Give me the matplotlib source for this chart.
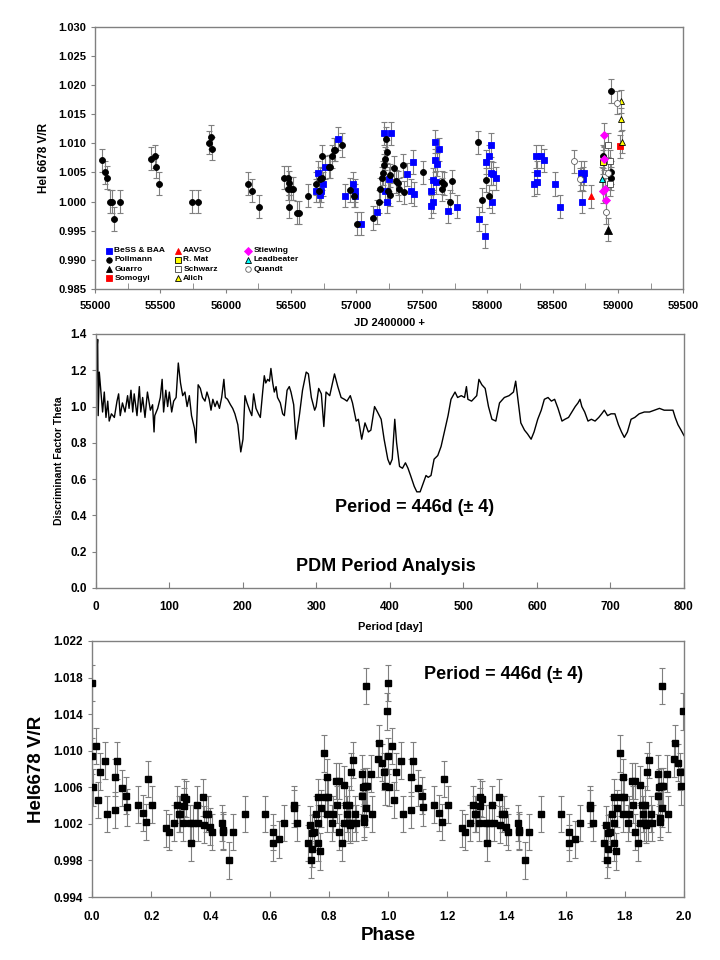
import numpy as np
import matplotlib.pyplot as plt
from matplotlib.ticker import MultipleLocator, FormatStrFormatter

plt.rcParams['font.family'] = ['Liberation Sans', 'DejaVu Sans']
plt.rcParams['font.weight'] = 'bold'

# ---- top panel: HeI 6678 V/R time series ----
bess_jd = [56690, 56704, 56721, 56732, 56742, 56756, 56858, 56914, 56970, 56988,
           56992, 57037, 57160, 57213, 57262, 57216, 57230, 57251, 57385, 57417,
           57438, 57434, 57571, 57571, 57582, 57589, 57603, 57600, 57610, 57617,
           57634, 57698, 57768, 57937, 57986, 57989, 58017, 58028, 58028, 58042,
           58038, 58070, 58361, 58379, 58375, 58382, 58410, 58432, 58516, 58555,
           58720, 58742, 58735, 58728]
bess_vr = [1.0019, 1.0049, 1.0011, 1.0019, 1.0030, 1.0059, 1.0108, 1.0010, 1.0030, 1.0019,
           1.0010, 0.9962, 0.9982, 1.0117, 1.0117, 1.0019, 1.0000, 1.0039, 1.0047, 1.0018,
           1.0013, 1.0068, 1.0018, 0.9992, 1.0000, 1.0037, 1.0103, 1.0071, 1.0033, 1.0064,
           1.0090, 0.9984, 0.9991, 0.9970, 0.9941, 1.0068, 1.0078, 1.0097, 1.0049, 1.0048,
           1.0000, 1.0040, 1.0030, 1.0033, 1.0078, 1.0049, 1.0078, 1.0071, 1.0030, 0.9991,
           1.0049, 1.0049, 1.0039, 1.0000]

pollmann_jd = [55053, 55074, 55091, 55116, 55133, 55148, 55193, 55429, 55457, 55464,
               55488, 55738, 55790, 55875, 55885, 55896, 56170, 56198, 56254, 56444,
               56479, 56482, 56475, 56500, 56514, 56482, 56542, 56563, 56626, 56693,
               56714, 56721, 56739, 56740, 56788, 56798, 56809, 56826, 56837, 56886,
               56949, 56981, 57002, 57125, 57171, 57181, 57195, 57202, 57209, 57220,
               57227, 57234, 57244, 57255, 57255, 57287, 57301, 57315, 57325, 57357,
               57360, 57508, 57652, 57655, 57669, 57715, 57729, 57926, 57964, 57989,
               58014, 58888, 58944, 58948, 58944]
pollmann_vr = [1.0071, 1.0050, 1.0041, 1.0000, 1.0000, 0.9970, 1.0000, 1.0074, 1.0078, 1.0060,
               1.0031, 1.0000, 1.0000, 1.0101, 1.0111, 1.0091, 1.0031, 1.0019, 0.9991, 1.0041,
               1.0041, 1.0032, 1.0022, 1.0022, 1.0022, 0.9991, 0.9981, 0.9981, 1.0010, 1.0031,
               1.0019, 1.0039, 1.0040, 1.0078, 1.0060, 1.0060, 1.0078, 1.0089, 1.0089, 1.0097,
               1.0020, 1.0010, 0.9962, 0.9972, 1.0000, 1.0021, 1.0040, 1.0049, 1.0062, 1.0074,
               1.0108, 1.0086, 1.0018, 1.0045, 1.0012, 1.0058, 1.0035, 1.0032, 1.0021, 1.0062,
               1.0016, 1.0050, 1.0021, 1.0033, 1.0031, 1.0000, 1.0035, 1.0102, 1.0003, 1.0037,
               1.0009, 1.0078, 1.0050, 1.0040, 1.0190]

guarro_jd = [58923]
guarro_vr = [0.9952]
somogyi_jd = [59018]
somogyi_vr = [1.0095]
aavso_jd = [58793]
aavso_vr = [1.0009]
rmat_jd = [58885]
rmat_vr = [1.0068]
schwarz_jd = [58927, 58941, 58936]
schwarz_vr = [1.0097, 1.0069, 1.0030]
alich_jd = [59020, 59022, 59028]
alich_vr = [1.0172, 1.0141, 1.0103]
stiewing_jd = [58895, 58897, 58888, 58902, 58909]
stiewing_vr = [1.0115, 1.0074, 1.0018, 1.0021, 1.0003]
leadbeater_jd = [58878]
leadbeater_vr = [1.0039]
quandt_jd = [58661, 58712, 58908, 58923, 58990]
quandt_vr = [1.0069, 1.0038, 0.9982, 1.0049, 1.0170]

vr_err = 0.002

# ---- middle panel: PDM theta vs trial period ----
period_days = [0, 1, 2.3, 3, 4.5, 6.8, 9, 11.3, 13.6, 16, 18, 21, 25, 28.6, 30.8, 33, 36, 39.5, 43, 45,
               47.6, 50, 52, 55.8, 59, 61, 63.5, 66.7, 70, 74, 77, 79, 80, 84, 87.5, 90, 92, 95, 97.5, 99.8,
               103, 105.7, 109, 112, 115, 118, 121, 124, 127, 130, 134, 136, 139, 142, 145, 148.3, 151, 154, 156.5, 159,
               162, 164.7, 168, 171, 174, 176, 179, 183, 186, 189, 193, 197, 200, 202.7, 205.5, 209, 212, 214.5, 217.7, 221,
               223.6, 227, 229, 231, 233.6, 236, 238, 240.5, 242.6, 245, 247, 250.8, 254, 256.3, 260, 263, 265.3, 269, 272, 277,
               281, 286, 289, 293, 297.5, 299.5, 303, 306.6, 310, 313, 318, 324.5, 329, 333.5, 338, 341.5, 346, 349, 354, 357,
               361.5, 366, 370.6, 374, 379, 383, 388, 392, 397, 400, 403, 406.5, 409, 413, 417, 421, 424.5, 428, 433, 436.5,
               441, 445.5, 449, 452, 455.8, 460, 465, 469.5, 474, 479, 483, 488.5, 492, 497, 501.4, 504, 506, 511, 515.6, 518,
               521, 525, 529.5, 534, 538.7, 544, 549, 555.6, 562, 568, 571, 573.7, 578, 583, 587, 592, 596, 601, 605.8, 610,
               615, 619.6, 624, 628.6, 634, 638, 642.9, 647.5, 652, 655.8, 658.5, 661, 664.9, 669.4, 674, 679, 684, 688, 691.6, 696,
               700.7, 706, 710.8, 715, 718.8, 723, 728, 733, 739, 746, 753, 760, 766.6, 773, 780, 785, 788, 791.8, 796, 800]
theta = [0.97, 1.30, 1.37, 0.95, 1.19, 1.08, 0.97, 1.08, 0.94, 1.03, 0.92, 0.96, 0.94, 1.03, 1.07, 0.95, 1.02, 0.97, 1.06, 0.99,
         1.09, 0.97, 1.07, 0.95, 1.11, 0.97, 1.05, 0.94, 1.08, 0.98, 1.01, 0.86, 0.95, 0.99, 1.05, 1.15, 0.97, 1.09, 1.00, 1.08,
         0.97, 1.03, 1.05, 1.24, 1.13, 1.06, 1.08, 1.00, 1.06, 0.95, 0.88, 0.80, 1.12, 1.10, 1.05, 1.03, 1.08, 1.04, 0.98, 1.04,
         1.00, 1.03, 0.99, 1.05, 1.15, 1.05, 1.04, 1.01, 0.99, 0.96, 0.90, 0.75, 0.82, 1.06, 1.02, 0.98, 0.95, 1.07, 0.99, 0.96,
         0.94, 1.09, 1.17, 1.13, 1.15, 1.14, 1.21, 1.13, 1.08, 1.11, 1.05, 1.02, 0.96, 0.95, 1.09, 1.11, 1.08, 1.01, 0.82, 0.96,
         1.09, 1.19, 1.18, 1.05, 0.98, 1.00, 1.10, 1.07, 0.89, 1.08, 1.06, 1.18, 1.11, 1.05, 1.04, 1.03, 1.06, 1.02, 0.92, 0.93,
         0.82, 0.91, 0.86, 0.87, 1.00, 0.97, 0.93, 0.82, 0.71, 0.68, 0.71, 0.93, 0.80, 0.67, 0.66, 0.69, 0.66, 0.62, 0.56, 0.53,
         0.53, 0.58, 0.62, 0.61, 0.62, 0.71, 0.73, 0.78, 0.86, 0.95, 1.04, 1.08, 1.05, 1.06, 1.05, 1.11, 1.04, 1.03, 1.05, 1.06,
         1.15, 1.12, 1.10, 1.00, 0.93, 0.92, 1.02, 1.05, 1.06, 1.08, 1.14, 1.05, 0.91, 0.87, 0.85, 0.82, 0.86, 0.93, 0.98, 1.04,
         1.05, 1.03, 1.04, 0.99, 0.92, 0.93, 0.94, 0.97, 1.00, 1.02, 1.04, 1.00, 0.97, 0.92, 0.93, 0.92, 0.94, 0.96, 0.98, 0.95,
         0.96, 0.96, 0.90, 0.86, 0.83, 0.86, 0.93, 0.94, 0.96, 0.97, 0.97, 0.98, 0.99, 0.98, 0.98, 0.98, 0.94, 0.90, 0.87, 0.84]

# ---- bottom panel: phase-folded V/R (one cycle, shown twice) ----
phase = [0.000, 0.000, 0.005, 0.014, 0.020, 0.028, 0.045, 0.051, 0.078, 0.079,
         0.085, 0.102, 0.115, 0.119, 0.157, 0.171, 0.183, 0.189, 0.202, 0.251,
         0.260, 0.276, 0.287, 0.293, 0.298, 0.307, 0.312, 0.312, 0.318, 0.330,
         0.335, 0.340, 0.353, 0.357, 0.375, 0.380, 0.384, 0.391, 0.397, 0.406,
         0.440, 0.442, 0.443, 0.462, 0.476, 0.516, 0.583, 0.611, 0.612, 0.633,
         0.650, 0.684, 0.684, 0.691, 0.729, 0.735, 0.740, 0.743, 0.744, 0.750,
         0.757, 0.763, 0.764, 0.764, 0.769, 0.772, 0.783, 0.788, 0.794, 0.795,
         0.797, 0.812, 0.815, 0.825, 0.829, 0.833, 0.836, 0.846, 0.850, 0.853,
         0.857, 0.862, 0.865, 0.868, 0.873, 0.876, 0.879, 0.882, 0.890, 0.891,
         0.912, 0.913, 0.916, 0.918, 0.919, 0.922, 0.926, 0.927, 0.929, 0.943,
         0.946, 0.966, 0.969, 0.980, 0.986, 0.989, 0.997]
phase_vr = [1.0174, 1.0094, 1.0060, 1.0105, 1.0046, 1.0077, 1.0089, 1.0031, 1.0071, 1.0035,
            1.0089, 1.0059, 1.0051, 1.0038, 1.0041, 1.0032, 1.0022, 1.0069, 1.0041, 1.0015,
            1.0011, 1.0021, 1.0041, 1.0031, 1.0031, 1.0021, 1.0049, 1.0039, 1.0047, 1.0021,
            0.9999, 1.0021, 1.0041, 1.0021, 1.0049, 1.0019, 1.0031, 1.0031, 1.0017, 1.0011,
            1.0021, 1.0013, 1.0011, 0.9980, 1.0011, 1.0031, 1.0031, 0.9999, 1.0011, 1.0003,
            1.0021, 1.0041, 1.0037, 1.0021, 0.9999, 1.0019, 0.9981, 0.9993, 1.0010, 1.0011,
            1.0031, 0.9999, 1.0021, 1.0049, 0.9990, 1.0037, 1.0097, 1.0049, 1.0031, 1.0071,
            1.0049, 1.0021, 1.0031, 1.0067, 1.0041, 1.0011, 1.0067, 0.9999, 1.0063, 1.0021,
            1.0041, 1.0031, 1.0021, 1.0041, 1.0019, 1.0077, 1.0021, 1.0090, 1.0031, 1.0021,
            1.0051, 1.0075, 1.0060, 1.0026, 1.0022, 1.0061, 1.0171, 1.0037, 1.0061, 1.0075,
            1.0031, 1.0091, 1.0108, 1.0087, 1.0077, 1.0061, 1.0143]
phase_yticks = [0.994, 0.998, 1.002, 1.006, 1.010, 1.014, 1.018, 1.022]

fig = plt.figure(figsize=(7.2, 9.6), dpi=100)
frame_col = '#808080'
err_col = '#7f7f7f'


def style_frame(ax):
    for s in ax.spines.values():
        s.set_color(frame_col)
        s.set_linewidth(1.0)


def draw_series(ax, x, y, marker, face, edge, size):
    ax.errorbar(x, y, yerr=vr_err, fmt='none', ecolor=err_col, elinewidth=0.8,
                capsize=2, capthick=0.8, zorder=2)
    ax.plot(x, y, linestyle='none', marker=marker, ms=size, mfc=face, mec=edge,
            mew=0.6, zorder=3)


# top
ax1 = fig.add_axes([0.132, 0.699, 0.817, 0.273])
sources = [
    ("BeSS & BAA", bess_jd, bess_vr, 's', '#0000ff', '#0000ff', 4.2),
    ("Pollmann", pollmann_jd, pollmann_vr, 'o', 'black', 'black', 4.3),
    ("Guarro", guarro_jd, guarro_vr, '^', 'black', 'black', 5.5),
    ("Somogyi", somogyi_jd, somogyi_vr, 's', '#ff0000', '#ff0000', 4.5),
    ("AAVSO", aavso_jd, aavso_vr, '^', '#ff0000', '#ff0000', 5.0),
    ("R. Mat", rmat_jd, rmat_vr, 's', '#ffff00', 'black', 4.2),
    ("Schwarz", schwarz_jd, schwarz_vr, 's', 'white', '#404040', 4.2),
    ("Alich", alich_jd, alich_vr, '^', '#ffff00', 'black', 5.0),
    ("Stiewing", stiewing_jd, stiewing_vr, 'D', '#ff00ff', '#ff00ff', 4.0),
    ("Leadbeater", leadbeater_jd, leadbeater_vr, '^', '#00ffff', 'black', 5.0),
    ("Quandt", quandt_jd, quandt_vr, 'o', 'white', '#606060', 4.3),
]
for name, x, y, mk, fc, ec, ms in sources:
    draw_series(ax1, x, y, mk, fc, ec, ms)

# legend drawn as three columns inside the plot area
col_x = [0.024, 0.141, 0.260]
row_y = [0.145, 0.111, 0.076, 0.040]
for i, (name, x, y, mk, fc, ec, ms) in enumerate(sources):
    c = 0 if i < 4 else (1 if i < 8 else 2)
    r = i if i < 4 else (i - 4 if i < 8 else i - 8)
    ax1.plot([col_x[c]], [row_y[r]], transform=ax1.transAxes, linestyle='none',
             marker=mk, ms=4, mfc=fc, mec=ec, mew=0.6, clip_on=False)
    ax1.text(col_x[c] + 0.009, row_y[r], name, transform=ax1.transAxes,
             fontsize=6, fontweight='bold', va='center', ha='left')

ax1.set_xlim(55000, 59500)
ax1.set_ylim(0.985, 1.030)
ax1.xaxis.set_major_locator(MultipleLocator(500))
ax1.xaxis.set_minor_locator(MultipleLocator(250))
ax1.yaxis.set_major_locator(MultipleLocator(0.005))
ax1.yaxis.set_major_formatter(FormatStrFormatter('%.3f'))
ax1.tick_params(axis='y', direction='out', length=3, labelsize=8, color=frame_col)
ax1.tick_params(axis='x', which='major', direction='out', length=3, labelsize=8, color=frame_col, pad=6)
ax1.tick_params(axis='x', which='minor', direction='in', length=4, color=frame_col)
ax1.set_xlabel("JD 2400000 +", fontsize=8, fontweight='bold', labelpad=5)
ax1.set_ylabel("HeI 6678 V/R", fontsize=8.5, fontweight='bold', labelpad=6)
style_frame(ax1)

# middle
ax2 = fig.add_axes([0.1333, 0.3875, 0.8167, 0.2646])
ax2.plot(period_days, theta, color='black', lw=1.0)
ax2.set_xlim(0, 800)
ax2.set_ylim(0, 1.4)
ax2.xaxis.set_major_locator(MultipleLocator(100))
ax2.yaxis.set_major_locator(MultipleLocator(0.2))
ax2.yaxis.set_major_formatter(FormatStrFormatter('%.1f'))
ax2.tick_params(axis='y', direction='out', length=3, labelsize=8.5, color=frame_col)
ax2.tick_params(axis='x', direction='in', length=4, labelsize=8.5, color=frame_col, pad=9)
ax2.set_xlabel("Period [day]", fontsize=8, fontweight='bold', labelpad=7)
ax2.set_ylabel("Discriminant Factor Theta", fontsize=7.5, fontweight='bold', labelpad=5)
ax2.text(434, 0.446, "Period = 446d (± 4)", fontsize=13, fontweight='bold',
         ha='center', va='center')
ax2.text(395, 0.116, "PDM Period Analysis", fontsize=13, fontweight='bold',
         ha='center', va='center')
style_frame(ax2)

# bottom
ax3 = fig.add_axes([0.1278, 0.0656, 0.8222, 0.2667])
ph_all = np.concatenate([np.array(phase), np.array(phase) + 1.0])
vr_all = np.concatenate([np.array(phase_vr), np.array(phase_vr)])
ax3.errorbar(ph_all, vr_all, yerr=vr_err, fmt='none', ecolor=err_col, elinewidth=0.8,
             capsize=2, capthick=0.8, zorder=2)
ax3.plot(ph_all, vr_all, linestyle='none', marker='s', ms=3.7, mfc='black',
         mec='black', zorder=3)
ax3.set_xlim(0, 2.0)
ax3.set_ylim(0.994, 1.022)
ax3.xaxis.set_major_locator(MultipleLocator(0.2))
ax3.set_yticks(phase_yticks)
ax3.xaxis.set_major_formatter(FormatStrFormatter('%.1f'))
ax3.yaxis.set_major_formatter(FormatStrFormatter('%.3f'))
ax3.tick_params(axis='y', direction='out', length=3, labelsize=8.5, color=frame_col)
ax3.tick_params(axis='x', direction='in', length=4, labelsize=8.5, color=frame_col, pad=10)
ax3.set_xlabel("Phase", fontsize=13.5, fontweight='bold', labelpad=3)
ax3.set_ylabel("HeI6678 V/R", fontsize=13.5, fontweight='bold', labelpad=6)
ax3.text(1.39, 1.0183, "Period = 446d (± 4)", fontsize=13, fontweight='bold',
         ha='center', va='center')
style_frame(ax3)

fig.savefig("out.png", dpi=100)
